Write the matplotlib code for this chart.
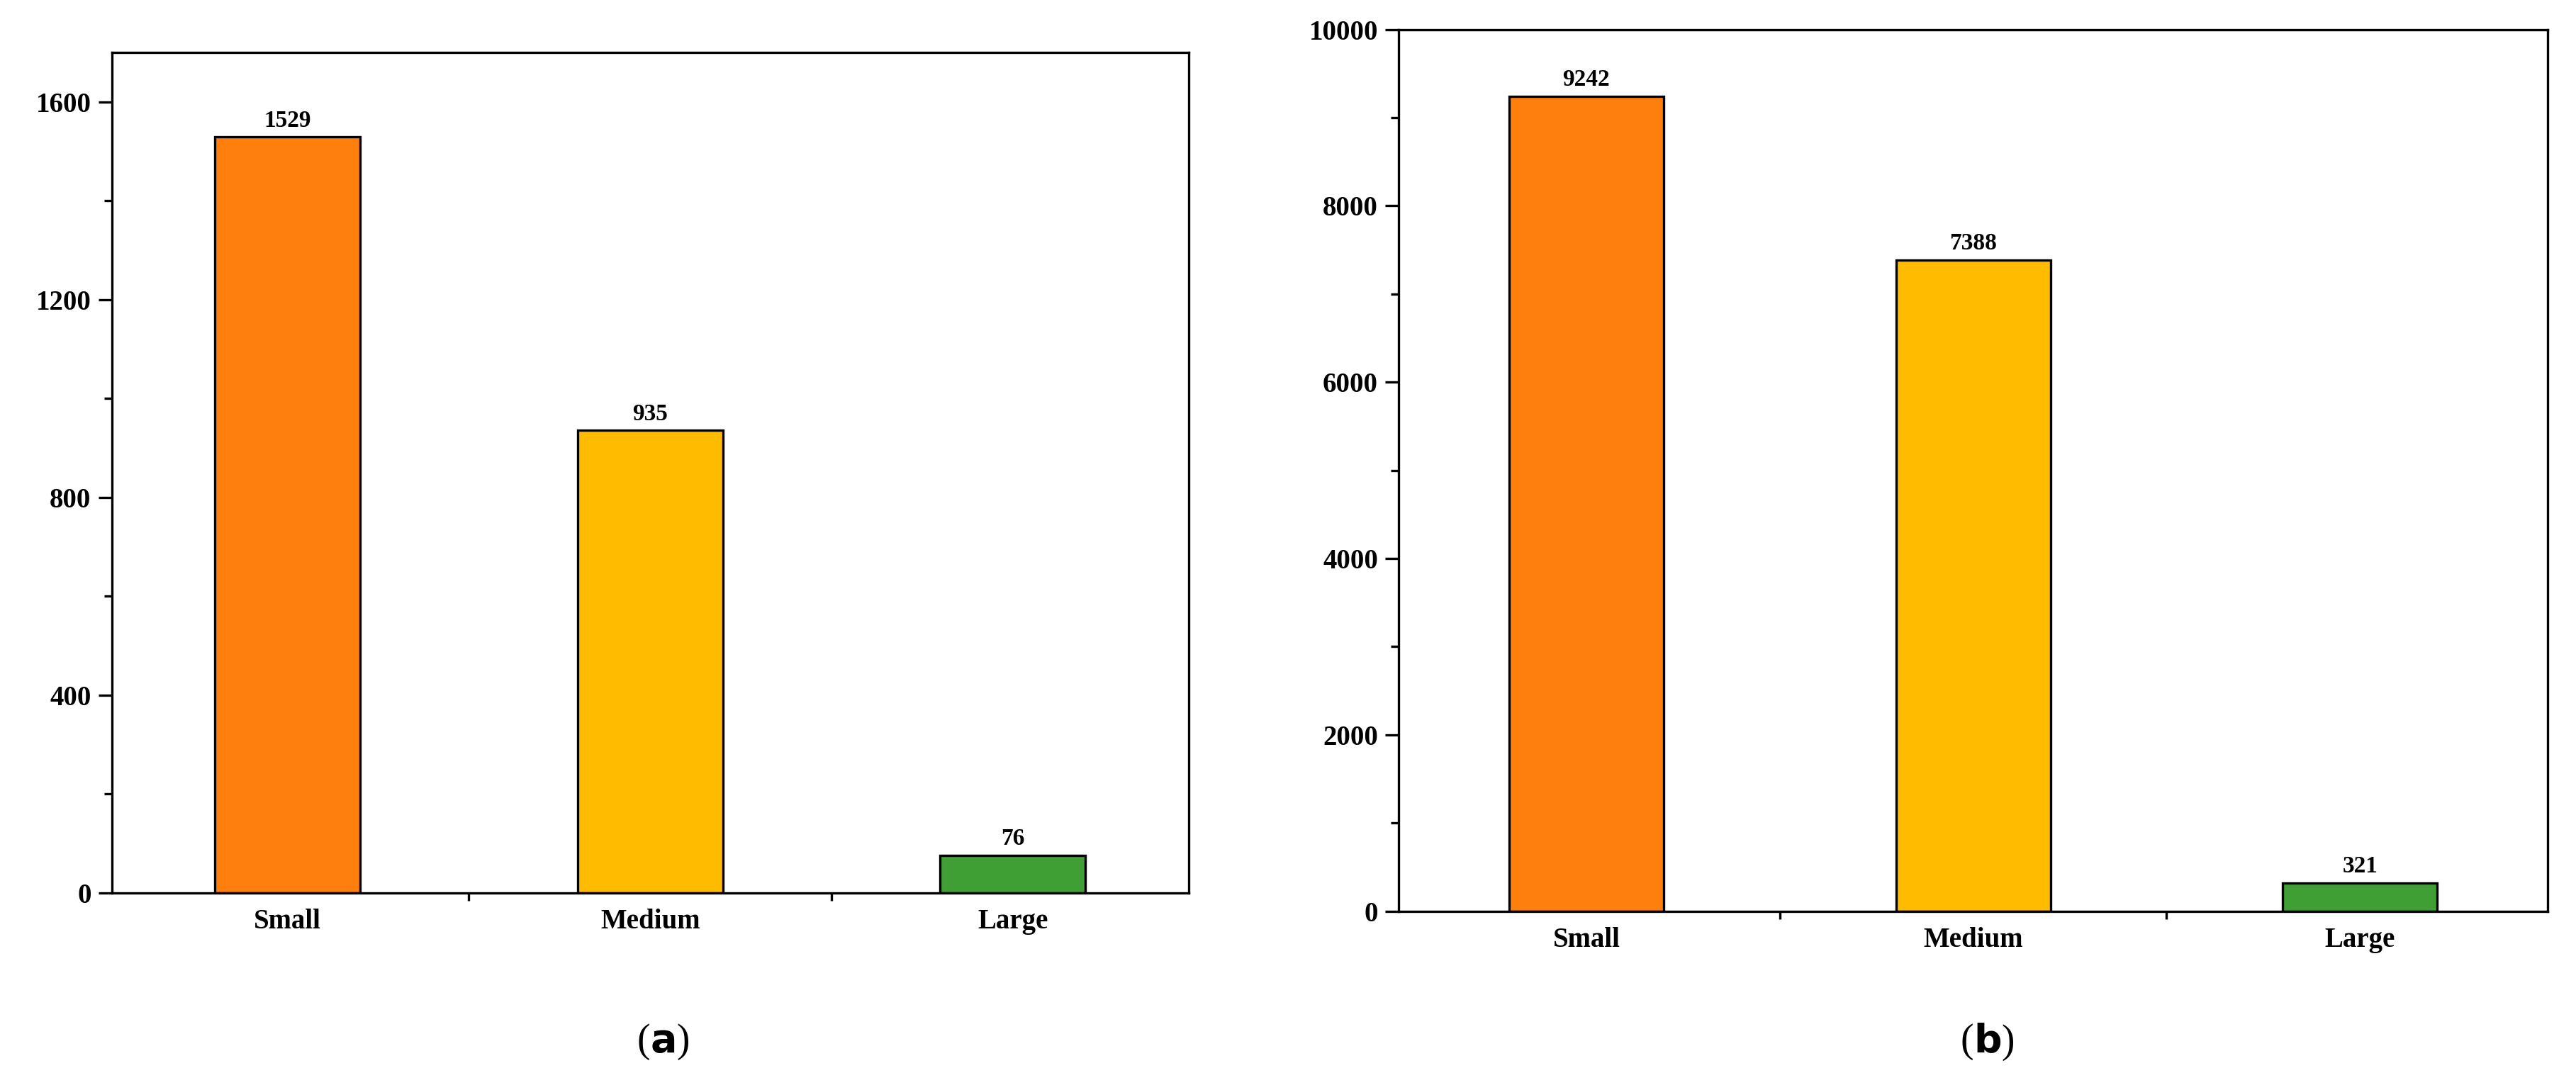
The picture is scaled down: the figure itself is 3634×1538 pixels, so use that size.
import matplotlib
matplotlib.use("Agg")
import matplotlib.pyplot as plt
from matplotlib.ticker import MultipleLocator

categories = ["Small", "Medium", "Large"]
values_a = [1529, 935, 76]
values_b = [9242, 7388, 321]
colors = ["#FF7F0E", "#FFBB00", "#3F9F35"]

plt.rcParams['font.family'] = ['Liberation Serif', 'DejaVu Serif']
fig = plt.figure(figsize=(18.17, 7.69), dpi=200)

def panel(rect, vals, ymax, major, minor, cap):
    ax = fig.add_axes(rect)
    x = range(len(categories))
    ax.bar(x, vals, width=0.4, color=colors, edgecolor="black", linewidth=1.2)
    for xi, v in zip(x, vals):
        ax.text(xi, v + ymax*0.006, str(v), ha="center", va="bottom", fontsize=12, fontweight="bold")
    ax.set_xlim(-0.485, 2.485)
    ax.set_ylim(0, ymax)
    ax.set_xticks(list(x))
    ax.set_xticklabels(categories, fontsize=14, fontweight="bold")
    ax.xaxis.set_minor_locator(MultipleLocator(0.5))
    ax.yaxis.set_major_locator(MultipleLocator(major))
    ax.yaxis.set_minor_locator(MultipleLocator(minor))
    for lab in ax.get_yticklabels():
        lab.set_fontweight("bold"); lab.set_fontsize(14)
    ax.tick_params(axis="both", which="major", direction="out", length=7, width=1.2)
    ax.tick_params(axis="both", which="minor", direction="out", length=4, width=1.2)
    ax.tick_params(axis="x", which="major", length=0, pad=8)
    for s in ax.spines.values():
        s.set_linewidth(1.2)
    fig.text(rect[0] + rect[2]/2, 0.044, "(", ha="right", va="center", fontsize=20)
    fig.text(rect[0] + rect[2]/2, 0.044, cap + ")", ha="left", va="center", fontsize=20)
    return ax

ax1 = panel([0.0434, 0.181, 0.418, 0.771], values_a, 1700, 400, 200, "a")
ax2 = panel([0.543, 0.164, 0.446, 0.809], values_b, 10000, 2000, 1000, "b")
# bold caption letters
for t in fig.texts:
    if t.get_text() in ("a)", "b)"):
        t.set_text(r"$\mathbf{" + t.get_text()[0] + "}$)")
fig.savefig("out.png", dpi=200)
